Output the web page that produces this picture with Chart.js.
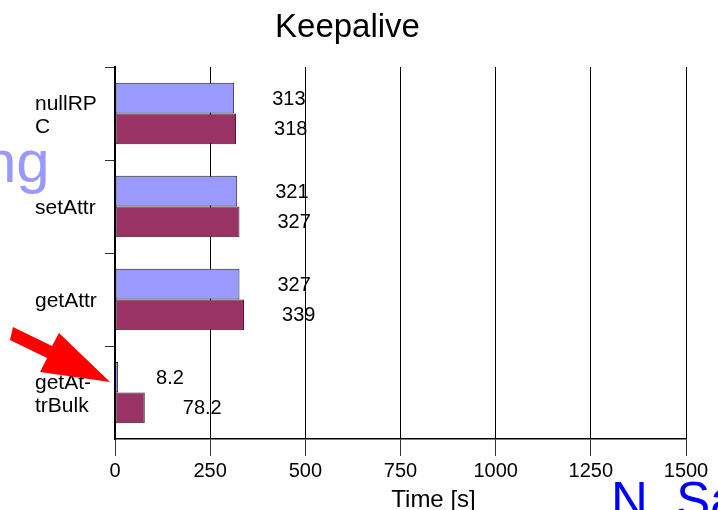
<!DOCTYPE html>
<html>
<head>
<meta charset="utf-8">
<script src="https://cdn.jsdelivr.net/npm/chart.js@4/dist/chart.umd.min.js"></script>
<style>
  html, body { margin: 0; padding: 0; background: #fff; }
  canvas { display: block; }
</style>
</head>
<body>
<canvas id="chart" width="718" height="510"></canvas>
<script>
// Keepalive timings per call type, two runs each
const categories = [['nullRP', 'C'], ['setAttr'], ['getAttr'], ['getAt-', 'trBulk']];
const runA = [313, 321, 327, 8.2];
const runB = [318, 327, 339, 78.2];
const xTickValues = [0, 250, 500, 750, 1000, 1250, 1500];
const axisTitle = 'Time [s]';
const heading = 'Keepalive';

const FONT = "'Liberation Sans', Arial, sans-serif";

// Writes each bar's value a fixed distance past its end
const valueLabels = {
  id: 'valueLabels',
  afterDatasetsDraw(chart) {
    const ctx = chart.ctx;
    ctx.save();
    ctx.font = '20px ' + FONT;
    ctx.fillStyle = '#000';
    ctx.textAlign = 'left';
    ctx.textBaseline = 'middle';
    chart.data.datasets.forEach((ds, di) => {
      const meta = chart.getDatasetMeta(di);
      meta.data.forEach((bar, i) => {
        ctx.fillText(String(ds.data[i]), bar.x + 38, bar.y + 1);
      });
    });
    ctx.restore();
  }
};

// Heading, axis caption and the slide overlays (text fragments and pointer arrow)
const overlays = {
  id: 'overlays',
  afterDraw(chart) {
    const ctx = chart.ctx;
    ctx.save();
    ctx.fillStyle = '#000';
    ctx.textAlign = 'center';
    ctx.textBaseline = 'alphabetic';
    ctx.font = '33px ' + FONT;
    ctx.fillText(heading, 347.5, 37);

    ctx.font = '24px ' + FONT;
    ctx.fillText(axisTitle, 433.5, 507);

    ctx.textAlign = 'left';
    ctx.fillStyle = '#9999ff';
    ctx.font = '60px ' + FONT;
    ctx.fillText('ng', -17, 182);

    ctx.fillStyle = '#0000ff';
    ctx.font = '51px ' + FONT;
    ctx.fillText('N. Sa', 611, 518);

    ctx.fillStyle = '#ff0000';
    ctx.beginPath();
    ctx.moveTo(13, 327);
    ctx.lineTo(52, 346);
    ctx.lineTo(59, 333);
    ctx.lineTo(110, 382);
    ctx.lineTo(40, 372);
    ctx.lineTo(47, 358);
    ctx.lineTo(10, 340);
    ctx.closePath();
    ctx.fill();
    ctx.restore();
  }
};

new Chart(document.getElementById('chart'), {
  type: 'bar',
  data: {
    labels: categories,
    datasets: [
      {
        label: 'Run A',
        data: runA,
        backgroundColor: '#9999ff',
        borderColor: '#222',
        borderWidth: 1,
        borderSkipped: false,
        categoryPercentage: 0.66,
        barPercentage: 1.0
      },
      {
        label: 'Run B',
        data: runB,
        backgroundColor: '#993366',
        borderColor: '#222',
        borderWidth: 1,
        borderSkipped: false,
        categoryPercentage: 0.66,
        barPercentage: 1.0
      }
    ]
  },
  options: {
    indexAxis: 'y',
    responsive: false,
    animation: false,
    devicePixelRatio: 1,
    layout: { padding: { left: 35, right: 32, top: 67, bottom: 0 } },
    plugins: {
      legend: { display: false },
      title: { display: false },
      tooltip: { enabled: false }
    },
    scales: {
      x: {
        type: 'linear',
        min: 0,
        max: 1500,
        afterBuildTicks(scale) {
          scale.ticks = xTickValues.map(v => ({ value: v }));
        },
        afterFit(scale) { scale.height = 71; },
        ticks: {
          color: '#000',
          font: { family: FONT, size: 20 },
          padding: 3,
          callback: v => String(v)
        },
        grid: {
          color: '#000',
          lineWidth: 1,
          tickLength: 17,
          tickColor: '#333'
        },
        border: { display: true, color: '#000', width: 1.5 }
      },
      y: {
        afterFit(scale) { scale.width = 80; },
        ticks: {
          color: '#000',
          crossAlign: 'far',
          labelOffset: 2,
          font: { family: FONT, size: 21, lineHeight: 1.1 }
        },
        grid: {
          drawOnChartArea: false,
          tickLength: 10,
          color: c => (c.type === 'tick' ? '#333' : 'rgba(0,0,0,0)')
        },
        border: { display: true, color: '#000', width: 2 }
      }
    }
  },
  plugins: [valueLabels, overlays]
});
</script>
</body>
</html>
